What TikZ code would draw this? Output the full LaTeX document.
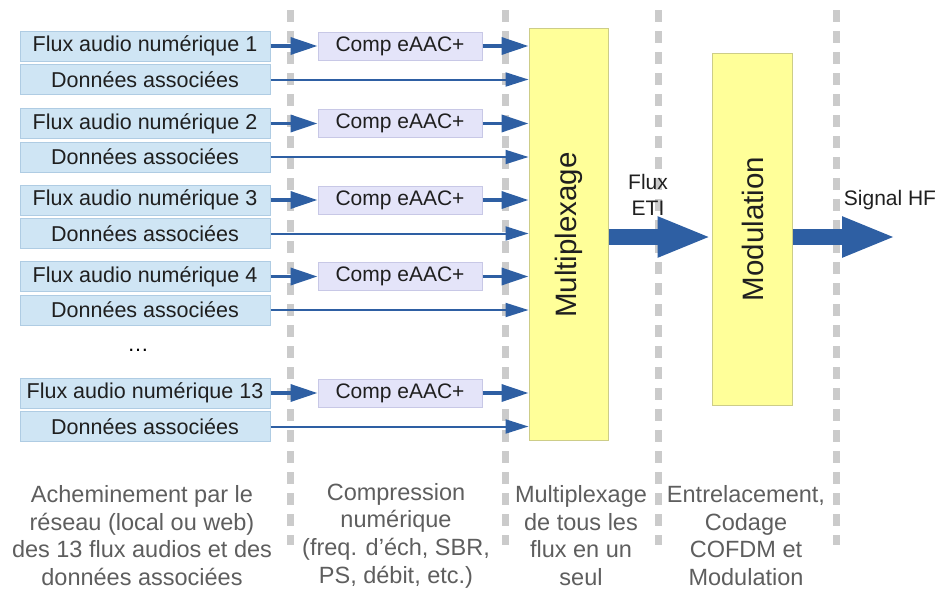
\documentclass[tikz,border=0pt]{standalone}
\usepackage{fontspec}
\setmainfont{Liberation Sans}
\usetikzlibrary{arrows.meta,calc}
\definecolor{boxblue}{HTML}{CFE5F4}
\definecolor{boxblueline}{HTML}{AFCCE3}
\definecolor{boxlav}{HTML}{E4E4F9}
\definecolor{boxlavline}{HTML}{C8C8E6}
\definecolor{yel}{HTML}{FFFF99}
\definecolor{yelline}{HTML}{CDCD88}
\definecolor{arr}{HTML}{2E5FA3}
\definecolor{dashgray}{HTML}{CBCBCB}
\definecolor{captext}{HTML}{5E5E5E}
\begin{document}
\begin{tikzpicture}[x=1pt,y=-1pt,
  srcbox/.style={draw=boxblueline, fill=boxblue, line width=1pt, minimum width=250pt, minimum height=30pt, inner sep=0pt, font=\fontsize{21.5}{25}\selectfont, text=black!88},
  compbox/.style={draw=boxlavline, fill=boxlav, line width=1pt, minimum width=164pt, minimum height=28pt, inner sep=0pt, font=\fontsize{21}{25}\selectfont, text=black!88},
  bigbox/.style={draw=yelline, fill=yel, line width=1pt, inner sep=0pt},
  biglabel/.style={rotate=90, font=\fontsize{29.5}{32}\selectfont, text=black!88},
  sepline/.style={draw=dashgray, line width=7pt, dash pattern=on 12pt off 9pt},
  thickarr/.style={draw=arr, line width=3.5pt, -{Triangle[length=27pt,width=17pt]}},
  thinarr/.style={draw=arr, line width=2pt, -{Triangle[length=23pt,width=14pt]}},
  bigarr/.style={draw=arr, line width=16pt, -{Triangle[length=54pt,width=37pt]}},
  caption/.style={align=center, text=captext, font=\fontsize{23.5}{27.7}\selectfont},
  smalllabel/.style={align=center, text=black!88, font=\fontsize{21}{26}\selectfont},
]
\useasboundingbox (0,0) rectangle (939,589);
% separators
\foreach \sx in {290,505,658,836}{
  \draw[sepline] (\sx,10) -- (\sx,545);
}
% big blocks
\node[bigbox, minimum width=79pt, minimum height=412pt] (mux) at (568.5,234) {};
\node[biglabel] (muxlabel) at (569,235) {Multiplexage};
\node[bigbox, minimum width=80pt, minimum height=352pt] (mod) at (752,229) {};
\node[biglabel] (modlabel) at (753,229) {Modulation};
% sources
\foreach \i/\y/\n in {1/46/1, 2/123.5/2, 3/200/3, 4/276.5/4, 5/393/13}{
  \node[srcbox] (f\i) at (145,\y) {Flux audio numérique \n};
  \node[srcbox] (d\i) at (145,\y+33.5) {Données associées};
  \node[compbox] (c\i) at (400,\y) {Comp eAAC+};
  \draw[thickarr] (f\i) -- (c\i);
  \draw[thickarr] (c\i) -- (c\i -| mux.west);
  \draw[thinarr] (d\i) -- (d\i -| mux.west);
}
\node[font=\fontsize{21.5}{25}\selectfont] (dots) at (138,350) {…};
% big arrows
\coordinate (hf) at (896,237);
\draw[bigarr] (mux.east |- hf) -- (mod.west |- hf);
\draw[bigarr] (mod.east |- hf) -- (hf);
\node[smalllabel] (eti) at (648,195) {Flux\\ETI};
\node[smalllabel] (sighf) at (890,200) {Signal HF};
% captions
\node[caption] (cap1) at (142,535.5) {Acheminement par le\\réseau (local ou web)\\des 13 flux audios et des\\données associées};
\node[caption] (cap2) at (396,535.5) {Compression\\numérique\\(freq. d’éch, SBR,\\PS, débit, etc.)};
\node[caption] (cap3) at (581,535.5) {Multiplexage\\de tous les\\flux en un\\seul};
\node[caption] (cap4) at (746,535.5) {Entrelacement,\\Codage\\COFDM et\\Modulation};
\end{tikzpicture}
\end{document}
